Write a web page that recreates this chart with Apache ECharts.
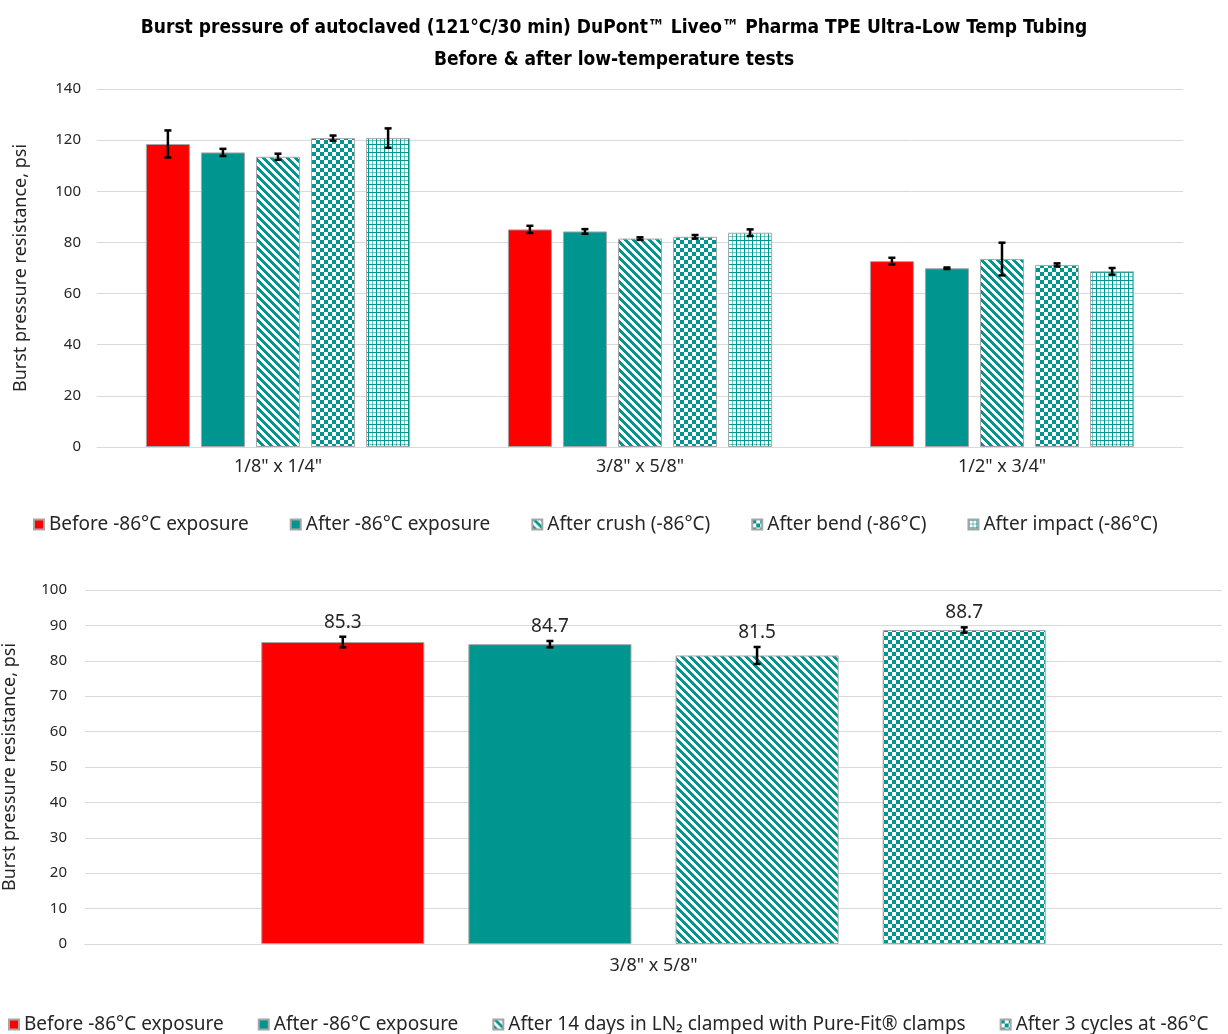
<!DOCTYPE html>
<html>
<head>
<meta charset="utf-8">
<script src="https://cdn.jsdelivr.net/npm/echarts@6/dist/echarts.min.js"></script>
<style>
html,body{margin:0;padding:0;background:#fff;}
#c{width:1228px;height:1034px;}
</style>
</head>
<body>
<div id="c"></div>
<script>
// ---------- DATA ----------
const titleText = 'Burst pressure of autoclaved (121°C/30 min) DuPont™ Liveo™ Pharma TPE Ultra-Low Temp Tubing\nBefore & after low-temperature tests';
const yAxisName = 'Burst pressure resistance, psi';

const topCategories = ['1/8" x 1/4"', '3/8" x 5/8"', '1/2" x 3/4"'];
const topSeriesNames = ['Before -86°C exposure', 'After -86°C exposure', 'After crush (-86°C)', 'After bend (-86°C)', 'After impact (-86°C)'];
const topBefore = [118.5, 85.1, 72.7];
const topAfter = [115.2, 84.3, 69.9];
const topCrush = [113.5, 81.5, 73.5];
const topBend = [120.8, 82.2, 71.2];
const topImpact = [120.8, 83.8, 68.7];
const topBeforeErr = [5.3, 1.4, 1.3];
const topAfterErr = [1.4, 0.9, 0.3];
const topCrushErr = [1.2, 0.5, 6.4];
const topBendErr = [1.0, 0.7, 0.6];
const topImpactErr = [3.8, 1.3, 1.3];

const bottomCategories = ['3/8" x 5/8"'];
const bottomSeriesNames = ['Before -86°C exposure', 'After -86°C exposure', 'After 14 days in LN₂ clamped with Pure-Fit® clamps', 'After 3 cycles at -86°C'];
const bottomValues = [85.3, 84.7, 81.5, 88.7];
const bottomErr = [1.5, 0.9, 2.4, 0.75];

// ---------- STYLE ----------
const RED = '#FF0000';
const TEAL = '#009690';
const BORDER = '#A6A6A6';
const FONT = '"Noto Sans", "Open Sans", sans-serif';

function makeTile(draw) {
  const c = document.createElement('canvas');
  c.width = 8; c.height = 8;
  const ctx = c.getContext('2d');
  ctx.fillStyle = '#fff';
  ctx.fillRect(0, 0, 8, 8);
  draw(ctx);
  return { image: c, repeat: 'repeat' };
}
const stripePattern = makeTile(ctx => {
  ctx.fillStyle = TEAL;
  for (let y = 0; y < 8; y++) for (let x = 0; x < 8; x++) {
    if (((x - y) % 8 + 8) % 8 < 4) ctx.fillRect(x, y, 1, 1);
  }
});
const checkerPattern = makeTile(ctx => {
  ctx.fillStyle = TEAL;
  ctx.fillRect(0, 0, 4, 4);
  ctx.fillRect(4, 4, 4, 4);
});
const gridPattern = makeTile(ctx => {
  ctx.fillStyle = TEAL;
  ctx.fillRect(0, 0, 8, 1);
  ctx.fillRect(0, 0, 1, 8);
  ctx.globalAlpha = 0.55;
  ctx.fillRect(0, 4, 8, 1);
  ctx.fillRect(4, 0, 1, 8);
  ctx.globalAlpha = 1;
});

const topFills = [RED, TEAL, stripePattern, checkerPattern, gridPattern];
const topValues = [topBefore, topAfter, topCrush, topBend, topImpact];
const topErrs = [topBeforeErr, topAfterErr, topCrushErr, topBendErr, topImpactErr];
const bottomFills = [RED, TEAL, stripePattern, checkerPattern];

const TOP_CAT_GAP = 0.27, TOP_BAR_GAP = 0.25;
const BOT_CAT_GAP = 0.31, BOT_BAR_GAP = 0.27;

function errRenderer(idx, n, catGap, barGap, withLabel) {
  return function (params, api) {
    const cat = api.value(0);
    const lo = api.coord([cat, api.value(1)]);
    const hi = api.coord([cat, api.value(2)]);
    const bandW = api.size([1, 0])[0];
    const usable = bandW * (1 - catGap);
    const barW = usable / (n + (n - 1) * barGap);
    const x = lo[0] - usable / 2 + idx * barW * (1 + barGap) + barW / 2;
    const cap = 3.5;
    const st = { stroke: '#000', lineWidth: 2.5 };
    const children = [
      { type: 'line', shape: { x1: x, y1: hi[1], x2: x, y2: lo[1] }, style: st },
      { type: 'line', shape: { x1: x - cap, y1: hi[1], x2: x + cap, y2: hi[1] }, style: st },
      { type: 'line', shape: { x1: x - cap, y1: lo[1], x2: x + cap, y2: lo[1] }, style: st }
    ];
    if (withLabel) {
      children.push({
        type: 'text', x: x, y: hi[1] - 5,
        style: { text: api.value(3).toFixed(1), textAlign: 'center', textVerticalAlign: 'bottom',
                 fontSize: 19, fontFamily: FONT, fill: '#262626' }
      });
    }
    return { type: 'group', children: children };
  };
}

const series = [];
topSeriesNames.forEach((name, i) => {
  series.push({
    type: 'bar', name: name, xAxisIndex: 0, yAxisIndex: 0,
    data: topValues[i],
    barCategoryGap: (TOP_CAT_GAP * 100) + '%', barGap: (TOP_BAR_GAP * 100) + '%',
    itemStyle: { color: topFills[i], borderColor: BORDER, borderWidth: 1 },
    emphasis: { disabled: true }
  });
});
topSeriesNames.forEach((name, i) => {
  series.push({
    type: 'custom', name: 'err-top-' + i, xAxisIndex: 0, yAxisIndex: 0, z: 5,
    renderItem: errRenderer(i, topSeriesNames.length, TOP_CAT_GAP, TOP_BAR_GAP, false),
    encode: { x: 0, y: [1, 2] },
    data: topValues[i].map((v, k) => [k, v - topErrs[i][k], v + topErrs[i][k], v]),
    silent: true
  });
});
bottomSeriesNames.forEach((name, i) => {
  series.push({
    type: 'bar', name: name, xAxisIndex: 1, yAxisIndex: 1,
    data: [bottomValues[i]],
    barCategoryGap: (BOT_CAT_GAP * 100) + '%', barGap: (BOT_BAR_GAP * 100) + '%',
    itemStyle: { color: bottomFills[i], borderColor: BORDER, borderWidth: 1 },
    emphasis: { disabled: true }
  });
});
bottomSeriesNames.forEach((name, i) => {
  series.push({
    type: 'custom', name: 'err-bot-' + i, xAxisIndex: 1, yAxisIndex: 1, z: 5,
    renderItem: errRenderer(i, bottomSeriesNames.length, BOT_CAT_GAP, BOT_BAR_GAP, true),
    encode: { x: 0, y: [1, 2] },
    data: [[0, bottomValues[i] - bottomErr[i], bottomValues[i] + bottomErr[i], bottomValues[i]]],
    silent: true
  });
});

const gridLine = { show: true, lineStyle: { color: '#D9D9D9', width: 1 } };

const option = {
  animation: false,
  backgroundColor: '#fff',
  title: {
    text: titleText, left: 'center', top: 7,
    textStyle: { fontFamily: '"DejaVu Sans Condensed", "Liberation Sans Narrow", sans-serif', fontWeight: 'bold',
                 fontSize: 19, lineHeight: 32, color: '#000' }
  },
  legend: [
    {
      data: topSeriesNames, left: 28, top: 510, itemWidth: 10, itemHeight: 10, itemGap: 41,
      icon: 'rect', textStyle: { fontFamily: FONT, fontSize: 19, color: '#262626' }, selectedMode: false
    },
    {
      data: bottomSeriesNames, left: 3, top: 1010, itemWidth: 10, itemHeight: 10, itemGap: 34,
      icon: 'rect', textStyle: { fontFamily: FONT, fontSize: 19, color: '#262626' }, selectedMode: false
    }
  ],
  grid: [
    { left: 97, right: 45, top: 89, bottom: 587, outerBoundsMode: 'none', containLabel: false },
    { left: 85, right: 6, top: 590, bottom: 90, outerBoundsMode: 'none', containLabel: false }
  ],
  xAxis: [
    { type: 'category', gridIndex: 0, data: topCategories,
      axisLine: { lineStyle: { color: '#D9D9D9' } }, axisTick: { show: false },
      axisLabel: { fontFamily: FONT, fontSize: 18, color: '#262626', margin: 11 } },
    { type: 'category', gridIndex: 1, data: bottomCategories,
      axisLine: { lineStyle: { color: '#D9D9D9' } }, axisTick: { show: false },
      axisLabel: { fontFamily: FONT, fontSize: 18, color: '#262626', margin: 13 } }
  ],
  yAxis: [
    { type: 'value', gridIndex: 0, min: 0, max: 140, interval: 20,
      name: yAxisName, nameLocation: 'middle', nameGap: 67, nameRotate: 90,
      nameTextStyle: { fontFamily: FONT, fontSize: 18, color: '#262626' },
      axisLine: { show: false }, axisTick: { show: false }, splitLine: gridLine,
      axisLabel: { fontFamily: FONT, fontSize: 15, color: '#262626', margin: 16 } },
    { type: 'value', gridIndex: 1, min: 0, max: 100, interval: 10,
      name: yAxisName, nameLocation: 'middle', nameGap: 66, nameRotate: 90,
      nameTextStyle: { fontFamily: FONT, fontSize: 18, color: '#262626' },
      axisLine: { show: false }, axisTick: { show: false }, splitLine: gridLine,
      axisLabel: { fontFamily: FONT, fontSize: 15, color: '#262626', margin: 18 } }
  ],
  series: series
};

const chart = echarts.init(document.getElementById('c'), null, { renderer: 'canvas' });
chart.setOption(option);
</script>
</body>
</html>
